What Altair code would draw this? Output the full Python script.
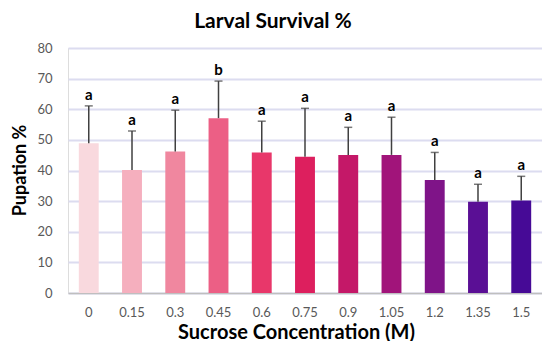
import altair as alt
import pandas as pd

concentrations = ["0", "0.15", "0.3", "0.45", "0.6", "0.75", "0.9", "1.05", "1.2", "1.35", "1.5"]
pupation = [48.9, 40.2, 46.2, 57.1, 45.9, 44.5, 45.1, 45.1, 36.9, 29.8, 30.2]
upper = [61.1, 52.9, 59.7, 69.2, 56.1, 60.3, 54.1, 57.4, 45.9, 35.5, 38.1]
letters = ["a", "a", "a", "b", "a", "a", "a", "a", "a", "a", "a"]
colors = ["#F9D9DE", "#F5AFBE", "#F0879F", "#EC5F85", "#E8376A", "#DD1F5E",
          "#C41868", "#A1147A", "#7F1488", "#5A0F95", "#460A96"]
y_ticks = [0, 10, 20, 30, 40, 50, 60, 70, 80]

df = pd.DataFrame({"conc": concentrations, "val": pupation, "up": upper, "letter": letters})

FONT = "Lato"

x_axis = alt.Axis(title="Sucrose Concentration (M)", labelAngle=0, ticks=False,
                  domainColor="#BFBFBF", domainWidth=1.5, labelPadding=13,
                  labelFont=FONT, labelFontSize=13, labelColor="#595959",
                  titleFont=FONT, titleFontSize=20, titleFontWeight="bold",
                  titleColor="#000000", titleY=29, titleX=228, grid=False)
x_scale = alt.Scale(paddingInner=0.54, paddingOuter=0.25)

y_scale = alt.Scale(domain=[0, 80], nice=False)
y_axis = alt.Axis(title="Pupation %", values=y_ticks, labelOverlap=False,
                  ticks=False, domain=False, labelPadding=16,
                  labelFont=FONT, labelFontSize=13, labelColor="#595959",
                  gridColor="#DCDCF0", gridWidth=2,
                  titleFont=FONT, titleFontSize=18, titleFontWeight="bold",
                  titleColor="#000000", titleAngle=-90, titleBaseline="alphabetic",
                  titleAlign="center", titleX=-43, titleY=122)


def X():
    return alt.X("conc:N", sort=concentrations, scale=x_scale, axis=x_axis)


def Y(field):
    return alt.Y(field, scale=y_scale, axis=y_axis)


bars = alt.Chart(df).mark_bar().encode(
    x=X(),
    y=Y("val:Q"),
    color=alt.Color("conc:N", scale=alt.Scale(domain=concentrations, range=colors), legend=None),
)

err = alt.Chart(df).mark_rule(color="#404040", strokeWidth=1.5).encode(
    x=X(),
    y=Y("val:Q"),
    y2="up:Q",
)

caps = alt.Chart(df).mark_tick(color="#404040", thickness=1.5, size=8).encode(
    x=X(),
    y=Y("up:Q"),
)

labels = alt.Chart(df).mark_text(baseline="bottom", dy=-3, font=FONT, fontSize=15,
                                 fontWeight="bold", color="#000000").encode(
    x=X(),
    y=Y("up:Q"),
    text="letter:N",
)

chart = alt.layer(bars, err, caps, labels).properties(
    width=474, height=245,
    title=alt.TitleParams("Larval Survival %", font=FONT, fontSize=21, fontWeight="bold",
                          color="#000000", anchor="middle", dx=-32, offset=10),
    autosize=alt.AutoSizeParams(type="none"),
    padding={"left": 60, "top": 40, "right": 0, "bottom": 48},
).configure_view(stroke=None).configure(background="#FFFFFF")

chart.save("out.html", embed_options={"renderer": "svg", "actions": False})
